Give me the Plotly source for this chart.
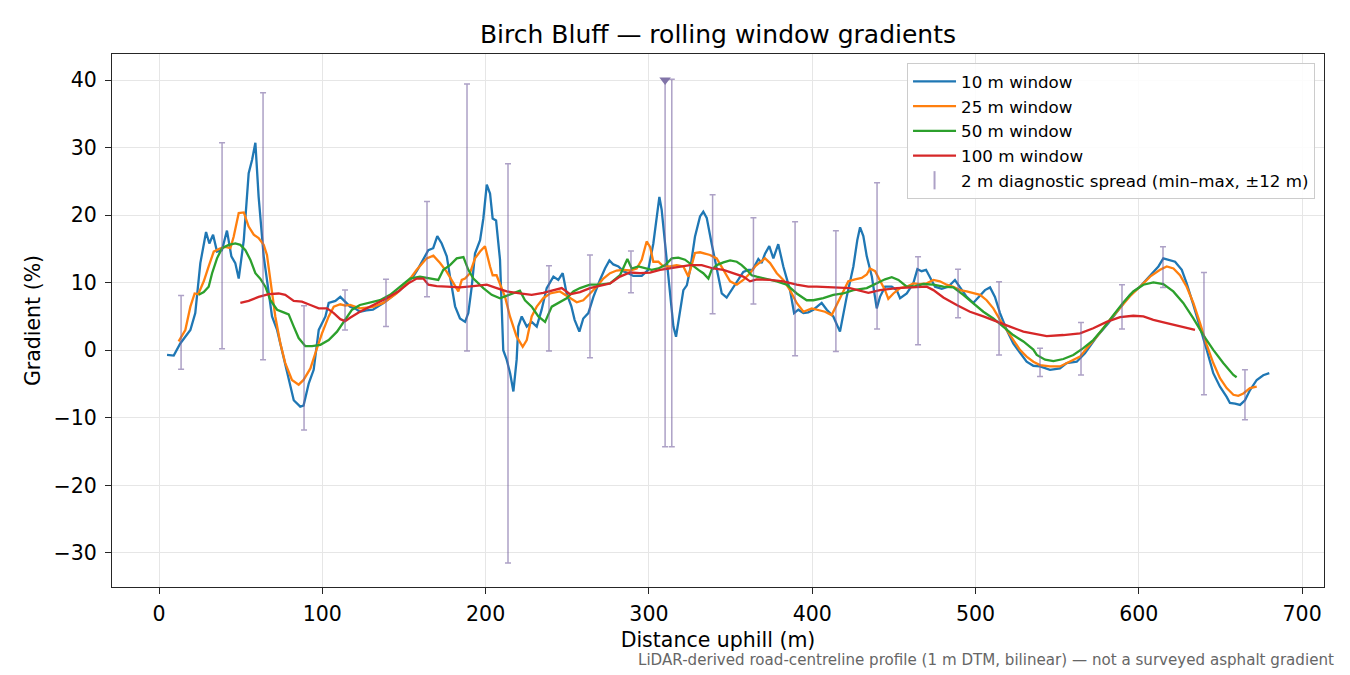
import plotly.graph_objects as go

# ---------------- data ----------------
w10_x = [4.9, 9, 13, 19.2, 22.2, 25.3, 28.8, 30.8, 33.1, 35.5, 38.5, 41.6, 44.3, 46.7, 48.8, 51.9, 54.9, 57, 59, 61,
         64.1, 67.2, 69.2, 72.3, 76.3, 79.4, 82.5, 86.5, 88.5, 91.7, 94.7, 97.8, 101.9, 103.9, 108, 111, 114, 117, 120,
         123, 127, 131, 137.4, 142, 147.6, 151, 155.7, 158.5, 161.9, 164.9, 167.9, 170.4, 173.1, 176.2, 178.2, 181.3,
         184.3, 187.4, 189.4, 191.5, 193.5, 196.6, 198.6, 200.7, 202.7, 204.3, 206.4, 208.8, 210.8, 212.9, 215, 217,
         219, 220, 222.1, 225.2, 228.2, 231.3, 234.3, 237.4, 241.5, 244.5, 247.2, 249.6, 252.5, 254.5, 257.4, 259.8,
         262.9, 266, 270, 273.1, 275.8, 278.2, 281.3, 284.3, 287.4, 290.4, 295.6, 299.6, 302.7, 304.8, 306.4, 307.8,
         309.9, 312.9, 315, 316.6, 319, 321.1, 323.2, 325.2, 328.2, 331.3, 333.3, 335.4, 338.4, 341.5, 344.6, 347.6,
         351.7, 354.8, 357.8, 360.9, 363.5, 367, 369, 371.1, 373.7, 376.2, 379.2, 382.3, 386.4, 388.9, 391.5, 394.6,
         397.6, 400.7, 405.8, 408.9, 412.9, 417, 421.1, 425.2, 427.6, 429.3, 431.3, 433.4, 436.5, 439.5, 441.5, 444.6,
         448.7, 451.7, 453.8, 457.9, 461.9, 464.4, 467, 469.7, 472.1, 475.2, 479.3, 483.3, 487.4, 490.5, 494.6, 498.6,
         502.8, 505.8, 508.9, 511.9, 515, 519.1, 523.1, 527.2, 531.3, 535.4, 539.5, 545.6, 551.7, 555.8, 562, 567,
         574.2, 581.3, 588.5, 594.6, 600.7, 606.9, 612, 615, 619, 622.2, 626.3, 629.3, 633.4, 637.5, 641.6, 645.6,
         649.7, 653.8, 655.8, 658.9, 662, 665, 668.1, 672.2, 676.2, 679.9]
w10_y = [-0.7, -0.8, 1.0, 3.0, 5.5, 12.9, 17.5, 15.8, 17.1, 14.6, 14.8, 17.7, 13.9, 12.9, 10.6, 16.3, 26.2, 28.2, 30.7, 22.7,
         13.9, 8.9, 5.0, 3.0, -0.95, -4.4, -7.4, -8.35, -8.2, -4.9, -2.9, 3.0, 5.0, 7.0, 7.3, 7.9, 7.2, 6.45, 6.2,
         5.7, 5.9, 6.0, 7.0, 7.8, 8.9, 9.8, 10.9, 12.0, 13.4, 14.8, 15.1, 16.9, 15.8, 13.9, 10.9, 6.5,
         4.7, 4.2, 5.5, 9.4, 14.3, 16.3, 19.5, 24.5, 23.2, 19.5, 19.2, 13.4, 0.0, -1.4, -3.4, -6.1,
         -1.4, 3.5, 5.0, 3.5, 4.2, 3.5, 6.0, 9.2, 10.9, 10.4, 11.4, 8.4, 6.5, 4.5, 2.75, 4.7,
         5.5, 7.9, 10.4, 12.1, 13.3, 12.7, 12.4, 11.7, 11.4, 11.0, 11.0, 11.9, 15.8, 19.8, 22.7, 20.8,
         15.8, 7.9, 3.5, 2.0, 6.0, 8.9, 9.6, 11.9, 16.8, 19.8, 20.5, 19.6, 15.8, 11.9, 8.4, 7.8,
         9.4, 10.4, 11.6, 11.9, 11.9, 13.5, 12.9, 14.3, 15.4, 13.6, 15.7, 12.4, 8.9, 5.5, 6.0, 5.5,
         5.6, 6.0, 7.0, 6.0, 5.0, 2.75, 7.9, 12.4, 16.3, 18.2, 16.9, 13.9, 10.9, 6.2, 7.9, 9.4,
         9.4, 8.9, 7.7, 8.4, 9.9, 12.0, 11.7, 11.9, 10.9, 9.4, 9.1, 9.4, 10.4, 9.4, 7.9, 7.0,
         8.2, 8.9, 9.3, 7.9, 5.5, 3.0, 1.0, -0.45, -1.7, -2.3, -2.4, -2.9, -2.7, -1.9, -1.7, -0.45,
         2.0, 4.0, 6.2, 8.2, 9.4, 11.1, 12.4, 13.6, 13.3, 13.1, 11.9, 9.9, 6.7, 3.5, 0.05, -3.4,
         -5.4, -6.9, -7.8, -7.9, -8.1, -7.4, -5.9, -4.4, -3.7, -3.4]

w25_x = [12, 16.1, 19.2, 21.8, 24, 27.4, 30.4, 33.5, 37.6, 40.6, 43.7, 45.7, 48.8, 51.9, 54.9, 58, 61, 64.1, 66.1, 68.2,
         71.2, 74.3, 77.3, 81.4, 85.5, 88.5, 92.7, 95.7, 99.8, 103.9, 107, 111, 114, 117, 123, 131, 137.4, 145.5,
         151.7, 157.8, 163.9, 168, 172.1, 176.2, 180.2, 183.3, 185.4, 187.4, 190.4, 193.5, 196.6, 199.6, 202.7, 204.3,
         206.7, 208.8, 211.9, 214.9, 219, 222.7, 225.2, 228.2, 231.3, 235.3, 239.4, 245.5, 250.6, 255.8, 259.8, 263.9,
         268, 272.1, 276.2, 280.2, 284.3, 288.4, 292.5, 295.6, 298.6, 300.7, 302.7, 305.8, 308.8, 312.9, 317, 321.1,
         324.1, 326.2, 328.2, 331.3, 337.4, 341.5, 345.6, 349.7, 353.8, 357.8, 361.9, 365, 368, 371.1, 374.2, 378.3,
         382.3, 386.4, 390.5, 394.6, 399.7, 403.7, 407.8, 411.9, 415, 419, 422.1, 426.2, 430.3, 433.4, 435.4, 438.5,
         441.5, 444.6, 446.6, 449.7, 453.8, 457.9, 461.9, 466, 470.1, 474.2, 478.2, 482.3, 486.4, 490.5, 494.6, 498.6,
         502.8, 506.8, 510.9, 515, 519.1, 523.1, 527.2, 531.3, 535.4, 539.5, 545.6, 551.7, 557.9, 564, 568.1, 574.2,
         581.3, 588.5, 594.6, 600.7, 606.9, 613, 617.1, 621.2, 625.2, 629.3, 633.4, 637.5, 641.6, 645.6, 649.7, 653.8,
         657.9, 660.9, 664, 668.1, 672.2]
w25_y = [1.3, 3.0, 6.45, 8.4, 8.3, 10.2, 12.4, 14.6, 15.1, 15.3, 15.1, 16.8, 20.3, 20.4, 18.3, 17.1, 16.6, 15.6, 14.1, 10.4,
         5.0, 1.0, -1.9, -4.4, -5.1, -4.4, -2.7, -0.45, 2.5, 5.0, 6.45, 6.8, 6.6, 6.7, 6.2, 6.4, 7.0, 8.4,
         9.9, 11.9, 13.6, 14.0, 12.9, 11.6, 9.9, 8.7, 10.4, 10.6, 11.4, 13.6, 14.6, 15.4, 12.4, 11.1,
         11.1, 9.9, 7.9, 5.0, 2.0, 0.5, 1.5, 5.0, 6.45, 7.7, 8.4, 8.7, 7.9, 7.1, 7.4, 8.4,
         9.4, 10.6, 11.4, 11.8, 11.9, 11.8, 12.1, 13.4, 16.1, 15.3, 13.1, 13.1, 12.4, 12.4, 12.6, 12.4,
         10.9, 12.6, 14.4, 14.5, 14.1, 13.6, 11.9, 10.2, 9.7, 10.4, 11.4, 12.4, 13.0, 13.6, 12.9, 11.4,
         10.4, 8.9, 7.0, 5.7, 6.2, 6.0, 5.7, 5.2, 6.7, 8.7, 10.2, 10.5, 10.7, 11.2, 12.1, 11.7,
         10.4, 8.9, 7.6, 8.4, 9.2, 9.4, 9.9, 9.8, 9.9, 10.4, 10.2, 9.7, 9.4, 8.9, 8.7, 8.4,
         8.2, 7.4, 6.2, 4.5, 3.0, 1.5, 0.05, -0.95, -1.7, -2.2, -2.4, -2.4, -1.7, -0.95, 0.3, 2.0,
         4.2, 6.3, 8.0, 9.4, 10.9, 11.9, 12.4, 12.1, 11.1, 9.4, 7.0, 4.0, 0.8, -1.9, -4.15, -5.6,
         -6.6, -6.75, -6.4, -5.6, -5.4]

w50_x = [24.3, 27.4, 30.4, 32.5, 35.5, 38.6, 42.7, 46.7, 49.8, 52.9, 55.9, 59, 62, 65.1, 68.2, 72.3, 76.3, 79.4, 82.5,
         85.5, 89.6, 93.7, 98.8, 103.9, 109, 114, 118.2, 123, 129.2, 135.3, 141.5, 147.6, 153.7, 159.8, 166, 171,
         174.1, 178.2, 182.3, 186.4, 189.4, 192.5, 198.6, 203.7, 208.8, 214.9, 221, 224.1, 228.2, 232.3, 236.4, 240.5,
         245.6, 249.6, 253.7, 257.8, 263.9, 270, 276.2, 282.3, 286.8, 289.4, 293.5, 297.6, 301.7, 305.8, 309.9, 314,
         318, 322.1, 326.2, 330.3, 333.3, 336.4, 338.4, 341.5, 345.6, 349.7, 353.8, 356.8, 359.9, 362.9, 366, 372.1,
         378.3, 384.4, 390.5, 396.6, 400.7, 406.8, 412.9, 419, 425.2, 433.4, 439.5, 444.6, 448.7, 452.8, 457.9, 463,
         468, 474.2, 480.3, 486.4, 492.5, 498.6, 504.8, 510.9, 517, 523.1, 529.3, 535.4, 537.5, 542.6, 547.7, 553.8,
         559.9, 566, 572.1, 578.3, 584.4, 590.5, 596.6, 602.8, 608.9, 615, 621.1, 627.2, 633.4, 639.5, 645.6, 651.7,
         657.9, 659.9]
w50_y = [8.2, 8.6, 9.4, 11.4, 13.6, 15.1, 15.6, 15.8, 15.6, 14.8, 13.4, 11.4, 10.6, 9.4, 7.4, 6.0, 5.6, 5.3, 3.5,
         1.8, 0.6, 0.6, 0.8, 1.5, 2.75, 4.5, 6.0, 6.7, 7.0, 7.4, 8.2, 9.4, 10.6, 10.9, 10.6, 10.4,
         11.9, 12.6, 13.6, 13.8, 11.9, 10.6, 9.2, 8.2, 7.7, 8.2, 8.8, 7.4, 6.45, 5.0, 4.2, 6.45,
         7.2, 7.7, 8.7, 9.2, 9.7, 9.7, 9.9, 11.1, 13.5, 12.1, 12.4, 12.1, 11.9, 12.1, 12.6, 13.6,
         13.7, 13.4, 12.6, 11.9, 11.4, 10.6, 11.9, 12.6, 13.0, 13.3, 13.1, 12.6, 11.9, 11.1, 10.9, 10.6,
         10.2, 9.7, 8.4, 7.4, 7.4, 7.7, 8.2, 8.4, 8.9, 9.2, 9.9, 10.5, 10.8, 10.4, 9.4, 9.5,
         9.8, 9.7, 9.4, 9.3, 8.2, 7.0, 5.7, 4.7, 3.5, 2.25, 1.3, 0.1, -0.7, -1.4, -1.6, -1.3,
         -0.7, 0.3, 1.5, 3.25, 5.2, 7.05, 8.7, 9.7, 10.05, 9.8, 8.7, 7.0, 4.7, 2.25, 0.05, -1.9,
         -3.65, -4.0]

w100_x = [49.8, 54.9, 61, 67.2, 73.3, 77.3, 82.5, 87.5, 92.7, 97.8, 102.9, 107, 111, 114, 117, 123, 131.2, 139.4, 146.5,
          152.7, 157.8, 161.9, 164.9, 170, 176.2, 184.3, 192.5, 200.7, 206.8, 212.9, 221, 228.2, 235.3, 241.5, 246.6,
          251.7, 257.8, 263.9, 270, 276.2, 282.3, 288.4, 294.5, 300.7, 306.8, 312.9, 319, 325.2, 332.3, 339.4, 345.6,
          351.7, 357.8, 361.9, 366, 374.2, 382.3, 390.5, 397.6, 402.7, 412.9, 423.1, 434.4, 441.5, 451.7, 461.9, 470.1,
          474.2, 480.3, 488.5, 496.6, 504.8, 513, 521.1, 529.3, 536, 543.6, 553.8, 564, 572.1, 580.3, 588.5, 596.6,
          602.8, 608.9, 617.1, 625.2, 634.4]
w100_y = [7.0, 7.3, 7.9, 8.3, 8.4, 8.2, 7.3, 7.2, 6.7, 6.2, 6.2, 5.5, 4.6, 4.3, 4.8, 5.7, 6.7, 7.7, 8.7,
          9.9, 10.6, 10.6, 9.7, 9.5, 9.4, 9.3, 9.5, 9.7, 9.2, 8.7, 8.4, 8.2, 8.5, 8.9, 9.2,
          8.3, 8.6, 9.2, 9.5, 9.9, 10.9, 11.5, 11.4, 11.5, 11.9, 12.1, 12.4, 12.6, 12.6, 12.1, 11.9,
          11.4, 10.9, 10.2, 10.5, 10.4, 10.2, 9.7, 9.4, 9.4, 9.3, 9.2, 8.5, 8.9, 9.2, 9.3, 9.4,
          8.9, 7.8, 6.7, 5.7, 5.0, 4.2, 3.5, 2.75, 2.4, 2.1, 2.25, 2.5, 3.25, 4.2, 4.9, 5.1,
          5.0, 4.5, 4.0, 3.5, 3.0]

# 2 m diagnostic spread (min-max within +-12 m)
spread_x = [13.5, 38.6, 63.7, 88.8, 113.9, 139.0, 164.1, 188.6, 213.7, 238.8, 263.9, 289.0, 309.9, 314.0,
            339.0, 364.0, 389.5, 414.5, 439.7, 464.8, 489.3, 514.4, 539.5, 564.6, 589.7, 614.8, 639.9, 665.0]
spread_lo = [-2.8, 0.2, -1.4, -11.8, 3.0, 3.5, 7.9, -0.1, -31.5, -0.1, -1.1, 8.5, -14.3, -14.3,
             5.4, 6.85, -0.8, -0.2, 3.15, 0.8, 4.8, -0.7, -3.9, -3.65, 3.15, 9.3, -6.6, -10.3]
spread_hi = [8.1, 30.7, 38.1, 6.6, 8.9, 10.5, 22.0, 39.4, 27.6, 12.5, 14.1, 14.7, 40.0, 40.1,
             23.0, 19.6, 19.0, 17.7, 24.8, 13.85, 12.0, 10.15, 0.3, 4.1, 9.7, 15.3, 11.5, -2.9]
# off-scale spread (clipped, flagged with a marker)
offscale_x = [309.9]
offscale_y = [40.0]

x_ticks = [0, 100, 200, 300, 400, 500, 600, 700]
y_ticks = [-30, -20, -10, 0, 10, 20, 30, 40]

TITLE = "Birch Bluff — rolling window gradients"
NOTE = "LiDAR-derived road-centreline profile (1 m DTM, bilinear) — not a surveyed asphalt gradient"

# ---------------- figure ----------------
FONT = "DejaVu Sans"
BAR_COL = "rgba(118,98,160,0.6)"

fig = go.Figure()
series = [
    ("10 m window", w10_x, w10_y, "#1f77b4"),
    ("25 m window", w25_x, w25_y, "#ff7f0e"),
    ("50 m window", w50_x, w50_y, "#2ca02c"),
    ("100 m window", w100_x, w100_y, "#d62728"),
]
for i, (name, xs, ys, col) in enumerate(series):
    fig.add_trace(go.Scatter(x=xs, y=ys, mode="lines", name=name,
                             line=dict(color=col, width=2.3), legendgroup=f"g{i}"))

spread_len = [h - l for h, l in zip(spread_hi, spread_lo)]
fig.add_trace(go.Scatter(
    x=spread_x, y=spread_lo, mode="markers", showlegend=False,
    marker=dict(size=1, color="rgba(0,0,0,0)"),
    error_y=dict(type="data", symmetric=False, array=spread_len,
                 arrayminus=[0] * len(spread_len), color=BAR_COL, thickness=1.5, width=3),
))
fig.add_trace(go.Scatter(
    x=offscale_x, y=offscale_y, mode="markers", showlegend=False,
    marker=dict(symbol="triangle-down", size=10, color="#8174a8"),
))
# legend entry for the spread bars
fig.add_trace(go.Scatter(
    x=[None], y=[None], mode="markers", name="2 m diagnostic spread (min–max, ±12 m)",
    legendgroup="g4",
    marker=dict(symbol="line-ns", size=13, line=dict(color=BAR_COL, width=2)),
))

TICK_SIZE = 20.5
axis_common = dict(
    showline=True, linecolor="#262626", linewidth=1.3, mirror=True,
    ticks="outside", ticklen=6, tickwidth=1.3, tickcolor="#262626",
    showgrid=True, gridcolor="#e6e6e6", gridwidth=1.2, zeroline=False,
    tickfont=dict(family=FONT, size=TICK_SIZE, color="#000"),
)
fig.update_xaxes(range=[-28.8, 713.4], tickvals=x_ticks, ticklabelstandoff=2,
                 title=dict(text="Distance uphill (m)", font=dict(family=FONT, size=TICK_SIZE, color="#000"),
                            standoff=7),
                 **axis_common)
fig.update_yaxes(range=[-35.05, 43.85], tickvals=y_ticks, ticklabelstandoff=4,
                 title=dict(text="Gradient (%)", font=dict(family=FONT, size=TICK_SIZE, color="#000"), standoff=7),
                 **axis_common)

fig.update_layout(
    width=1350, height=675,
    margin=dict(l=112, r=26, t=54, b=88),
    paper_bgcolor="white", plot_bgcolor="white",
    font=dict(family=FONT, color="#000"),
    title=dict(text=TITLE, x=0.5, xref="paper", y=1 - 34 / 675, yref="container",
               xanchor="center", yanchor="middle", font=dict(family=FONT, size=25, color="#000")),
    legend=dict(x=0.9926, y=0.983, xanchor="right", yanchor="top",
                bgcolor="rgba(255,255,255,0.85)", bordercolor="#cccccc", borderwidth=1,
                font=dict(family=FONT, size=16.7, color="#000"), tracegroupgap=0, itemwidth=43),
    annotations=[dict(text=NOTE, xref="paper", yref="paper", x=(1336 - 112) / 1212, y=(587 - 660) / 533,
                      xanchor="right", yanchor="middle", showarrow=False,
                      font=dict(family=FONT, size=15.1, color="#666666"))],
)

fig.write_html("out.html", config={"displayModeBar": False},
               post_script="document.body.style.margin='0';")
